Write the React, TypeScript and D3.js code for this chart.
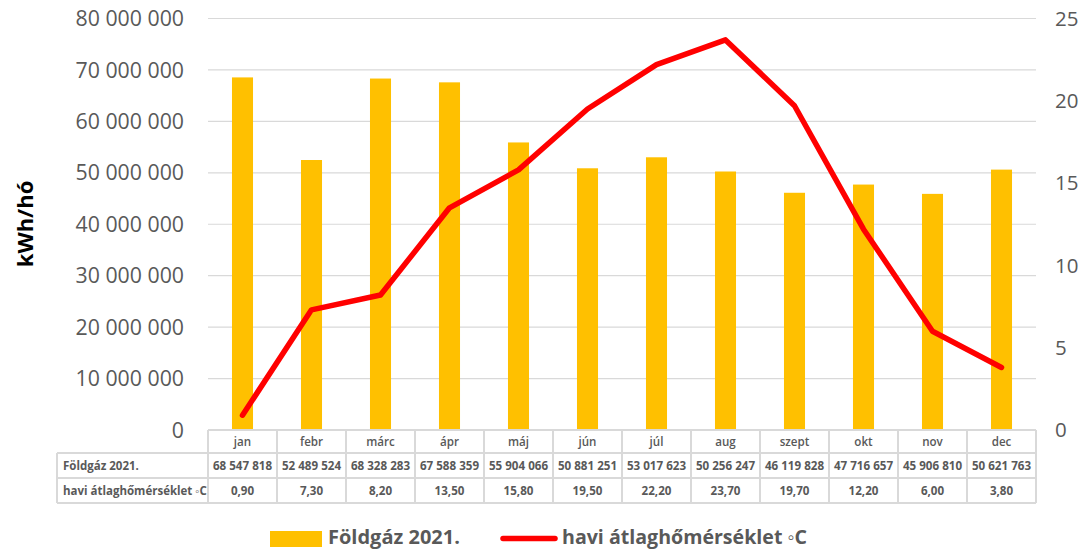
import React from "react";
import * as d3 from "d3";

const months = ["jan", "febr", "márc", "ápr", "máj", "jún", "júl", "aug", "szept", "okt", "nov", "dec"];
const gasValues = [68547818, 52489524, 68328283, 67588359, 55904066, 50881251, 53017623, 50256247, 46119828, 47716657, 45906810, 50621763];
const tempValues = [0.9, 7.3, 8.2, 13.5, 15.8, 19.5, 22.2, 23.7, 19.7, 12.2, 6.0, 3.8];
const leftTicks = [0, 10000000, 20000000, 30000000, 40000000, 50000000, 60000000, 70000000, 80000000];
const rightTicks = [0, 5, 10, 15, 20, 25];
const gasLabel = "Földgáz 2021.";
const tempLabel = "havi átlaghőmérséklet ◦C";
const yTitle = "kWh/hó";

const W = 1079;
const H = 549;
const plotL = 208;
const plotR = 1036;
const plotT = 18.5;
const plotB = 430;
const tableL = 57;
const rowY = [430, 453, 478, 503];

const GREY = "#595959";
const GRID = "#d9d9d9";
const FONT = "'Open Sans', 'Noto Sans', sans-serif";

const fmtSpace = (v: number) => d3.format(",.0f")(v).replace(/,/g, " ");
const fmtComma = (v: number) => d3.format(".2f")(v).replace(".", ",");

export default function App() {
  const x = d3.scaleBand<string>().domain(months).range([plotL, plotR]).paddingInner(0).paddingOuter(0);
  const yL = d3.scaleLinear().domain([0, 80000000]).range([plotB, plotT]);
  const yR = d3.scaleLinear().domain([0, 25]).range([plotB, plotT]);
  const bw = x.bandwidth();
  const barW = bw * 0.305;
  const line = d3
    .line<number>()
    .x((_, i) => (x(months[i]) as number) + bw / 2)
    .y((d) => yR(d));

  return (
    <svg
      width={W}
      height={H}
      style={{ position: "absolute", left: 0, top: 0, background: "#fff" }}
      fontFamily={FONT}
    >
      {/* gridlines */}
      {leftTicks.map((t) => (
        <line key={"g" + t} x1={plotL} x2={plotR} y1={yL(t)} y2={yL(t)} stroke={GRID} strokeWidth={1.2} />
      ))}
      {/* left ticks */}
      {leftTicks.map((t) => (
        <text key={"l" + t} x={184} y={yL(t)} dy="0.36em" textAnchor="end" fontSize={21.3} fill={GREY}>
          {fmtSpace(t)}
        </text>
      ))}
      {/* right ticks */}
      {rightTicks.map((t) => (
        <text key={"r" + t} x={1055} y={yR(t)} dy="0.36em" textAnchor="start" fontSize={20.5} fill={GREY}>
          {t}
        </text>
      ))}
      {/* y title */}
      <text
        transform={`translate(33, ${224}) rotate(-90)`}
        textAnchor="middle"
        fontSize={22}
        fontWeight="bold"
        fill="#000"
      >
        {yTitle}
      </text>
      {/* bars */}
      {gasValues.map((v, i) => (
        <rect
          key={"b" + i}
          x={(x(months[i]) as number) + bw / 2 - barW / 2}
          y={yL(v)}
          width={barW}
          height={yL(0) - yL(v)}
          fill="#ffc000"
        />
      ))}
      {/* line */}
      <path d={line(tempValues) || ""} fill="none" stroke="#ff0000" strokeWidth={5.5} strokeLinejoin="round" strokeLinecap="round" />

      {/* table */}
      <g stroke={GRID} strokeWidth={2} fill="none">
        <line x1={plotL} x2={plotR} y1={rowY[0]} y2={rowY[0]} />
        <line x1={tableL} x2={plotR} y1={rowY[1]} y2={rowY[1]} />
        <line x1={tableL} x2={plotR} y1={rowY[2]} y2={rowY[2]} />
        <line x1={tableL} x2={plotR} y1={rowY[3]} y2={rowY[3]} />
        <line x1={tableL} x2={tableL} y1={rowY[1]} y2={rowY[3]} />
        {months.map((m) => (
          <line key={"v" + m} x1={x(m) as number} x2={x(m) as number} y1={rowY[0]} y2={rowY[3]} />
        ))}
        <line x1={plotR} x2={plotR} y1={rowY[0]} y2={rowY[3]} />
      </g>
      {months.map((m, i) => {
        const cx = (x(m) as number) + bw / 2;
        return (
          <g key={"t" + m} fill={GREY} textAnchor="middle" fontSize={11.6}>
            <text x={cx} y={(rowY[0] + rowY[1]) / 2} dy="0.35em" fontWeight={600}>
              {m}
            </text>
            <text x={cx} y={(rowY[1] + rowY[2]) / 2} dy="0.35em" fontWeight="bold">
              {fmtSpace(gasValues[i])}
            </text>
            <text x={cx} y={(rowY[2] + rowY[3]) / 2} dy="0.35em" fontWeight="bold">
              {fmtComma(tempValues[i])}
            </text>
          </g>
        );
      })}
      <text x={tableL + 6} y={(rowY[1] + rowY[2]) / 2} dy="0.35em" fontSize={11.5} fontWeight="bold" fill={GREY}>
        {gasLabel}
      </text>
      <text x={tableL + 6} y={(rowY[2] + rowY[3]) / 2} dy="0.35em" fontSize={11.5} fontWeight="bold" fill={GREY}>
        {tempLabel}
      </text>

      {/* legend */}
      <rect x={270} y={531} width={52} height={16} fill="#ffc000" />
      <text x={328} y={544} fontSize={20} fontWeight="bold" fill={GREY}>
        {gasLabel}
      </text>
      <line x1={503} x2={555} y1={538.5} y2={538.5} stroke="#ff0000" strokeWidth={5.5} strokeLinecap="round" />
      <text x={562} y={544} fontSize={19.6} fontWeight="bold" fill={GREY}>
        {tempLabel}
      </text>
    </svg>
  );
}
